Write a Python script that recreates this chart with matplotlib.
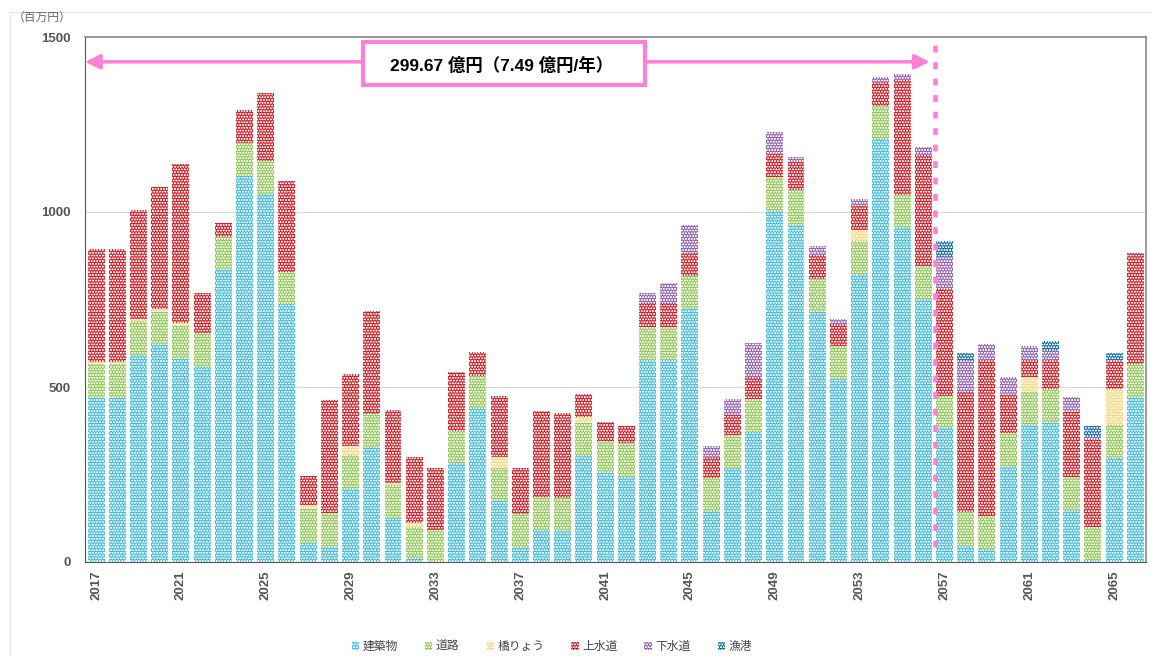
import numpy as np
import matplotlib
matplotlib.use("Agg")
import matplotlib.pyplot as plt
from matplotlib.patches import Rectangle, Patch

plt.rcParams["font.family"] = ["Liberation Sans", "Noto Sans CJK JP", "DejaVu Sans"]
plt.rcParams["hatch.color"] = "white"
plt.rcParams["hatch.linewidth"] = 0.35

# ── データ（百万円） ─────────────────────────────
years = list(range(2017, 2067))

buildings = [468, 468, 591, 620, 580, 558, 834, 1103, 1051, 737,
             55, 44, 210, 328, 125, 8, 0, 282, 437, 174,
             41, 91, 89, 303, 253, 244, 577, 577, 725, 146,
             268, 372, 1004, 962, 715, 522, 823, 1210, 958, 751,
             382, 47, 36, 272, 391, 398, 149, 6, 298, 470]
roads = [98, 98, 98, 95, 95, 95, 94, 93, 96, 92,
         96, 95, 96, 95, 95, 93, 91, 93, 94, 94,
         95, 96, 95, 95, 94, 97, 95, 95, 92, 95,
         95, 94, 95, 101, 95, 95, 95, 94, 90, 96,
         92, 95, 95, 96, 94, 95, 93, 93, 93, 96]
bridges = [6, 6, 4, 7, 7, 0, 0, 0, 0, 0,
           12, 0, 25, 0, 7, 11, 0, 0, 0, 33,
           0, 0, 0, 15, 0, 0, 0, 0, 0, 0,
           0, 0, 0, 0, 0, 0, 32, 0, 0, 0,
           0, 0, 0, 0, 43, 0, 0, 0, 103, 0]
water = [322, 322, 313, 350, 454, 115, 42, 94, 192, 260,
         83, 324, 206, 294, 207, 189, 177, 169, 68, 174,
         134, 243, 241, 66, 52, 48, 67, 67, 65, 58,
         57, 64, 67, 81, 67, 62, 67, 68, 329, 316,
         305, 345, 446, 109, 49, 84, 188, 250, 80, 316]
sewer = [0, 0, 0, 0, 0, 0, 0, 0, 0, 0,
         0, 0, 0, 0, 0, 0, 0, 0, 0, 0,
         0, 0, 0, 0, 0, 0, 31, 57, 80, 33,
         46, 95, 63, 12, 27, 14, 20, 15, 16, 24,
         93, 87, 46, 52, 40, 26, 42, 9, 3, 0]
fishing = [0] * 40 + [46, 22, 0, 0, 0, 29, 0, 31, 19, 0]

series_names = ["建築物", "道路", "橋りょう", "上水道", "下水道", "漁港"]
series_vals = [buildings, roads, bridges, water, sewer, fishing]
colors = ["#45BFEA", "#92CC58", "#FFD97C", "#E21E26", "#9765BD", "#1A6FB4"]
HATCH = "oooooo"

x = np.arange(len(years))

fig = plt.figure(figsize=(11.53, 6.57), dpi=100)
ax = fig.add_axes([85 / 1153, 1 - 562 / 657, (1146 - 85) / 1153, (562 - 37) / 657])

bottom = np.zeros(len(years))
for name, vals, c in zip(series_names, series_vals, colors):
    v = np.array(vals, dtype=float)
    ax.bar(x, v, 0.8, bottom=bottom, color=c, hatch=HATCH,
           edgecolor="white", linewidth=0, label=name, zorder=2)
    bottom += v

ax.set_xlim(-0.52, len(years) - 0.5)
ax.set_ylim(0, 1500)
ax.set_yticks([0, 500, 1000, 1500])
ax.yaxis.grid(True, color="#d9d9d9", linewidth=0.8, zorder=0)
ax.set_axisbelow(True)
ax.tick_params(axis="y", length=0, pad=10, labelsize=9.5, labelcolor="#555555")
for lab in ax.get_yticklabels():
    lab.set_fontweight("bold")

ax.set_xticks(x[::4])
ax.set_xticklabels([str(y) for y in years[::4]], rotation=90,
                   fontsize=9.5, fontweight="bold", color="#555555")
ax.tick_params(axis="x", length=0, pad=6)

for side in ["left", "bottom"]:
    ax.spines[side].set_color("#555555")
for side in ["top", "right"]:
    ax.spines[side].set_color("#8a8a8a")
    ax.spines[side].set_linewidth(1.2)

fig.text(13 / 1153, 1 - 18 / 657, "（百万円）", fontsize=8.5, color="#666666",
         va="center", ha="left")

# ── 注記 ───────────────────────────────────
pink = "#FF80D6"
ax.annotate("", xy=(-0.52, 1429), xytext=(39.3, 1429),
            arrowprops=dict(arrowstyle="<|-|>", color=pink, lw=2.5,
                            mutation_scale=22, shrinkA=0, shrinkB=0),
            zorder=4)
ax.plot([39.55, 39.55], [44, 1495], color=pink, lw=3.3,
        linestyle=(0, (1.5, 2.1)), zorder=5, dash_capstyle="butt")
ax.add_patch(Rectangle((12.6, 1363), 13.3, 123, facecolor="white",
                       edgecolor=pink, linewidth=3, zorder=6))
ax.text(19.1, 1420, "299.67 億円（7.49 億円/年）", ha="center", va="center",
        fontsize=12.5, fontweight="bold", color="black", zorder=7)

# 外枠
fig.patches.append(Rectangle((10 / 1153, 0), 1 - 10 / 1153, 1 - 12 / 657,
                             transform=fig.transFigure, fill=False,
                             edgecolor="#e6e6e6", linewidth=0.8))

handles = [Patch(facecolor=c, hatch=HATCH, edgecolor="white", linewidth=0)
           for c in colors]
fig.legend(handles, series_names, loc="center", ncol=6,
           bbox_to_anchor=(552 / 1153, 1 - 647 / 657), frameon=False,
           fontsize=8.5, handlelength=0.6, handleheight=0.6,
           handletextpad=0.3, columnspacing=2.3, labelcolor="#444444")

fig.savefig("out.png", dpi=100)
